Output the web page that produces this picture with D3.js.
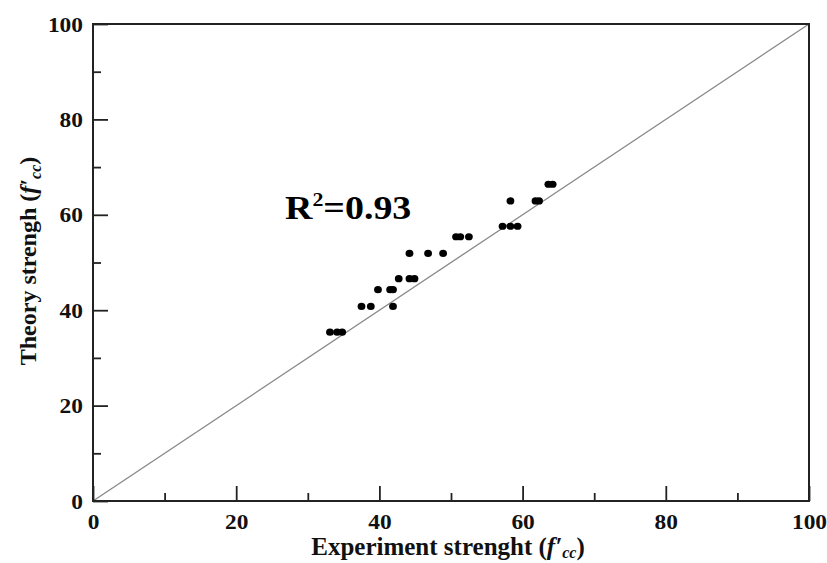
<!DOCTYPE html>
<html><head><meta charset="utf-8">
<script src="https://cdn.jsdelivr.net/npm/d3@7"></script>
<style>body{margin:0;background:#fff}svg{display:block}</style>
</head><body>
<script>
const experiment = [33.1,34.1,34.8, 37.5,38.8,41.9, 39.8,41.5,41.9, 42.7,44.2,44.9, 44.2,46.8,48.9, 50.7,51.3,52.5, 57.2,58.3,59.3, 58.3,61.8,62.3, 63.6,64.2];
const theory     = [35.4,35.4,35.4, 40.8,40.8,40.8, 44.3,44.3,44.3, 46.6,46.6,46.6, 51.9,51.9,51.9, 55.4,55.4,55.4, 57.6,57.6,57.6, 62.9,62.9,62.9, 66.4,66.4];
const majorTicks = [0,20,40,60,80,100];
const minorTicks = [10,30,50,70,90];
const r2Label = "0.93";

const W=827,H=563;
const svg=d3.select("body").append("svg").attr("width",W).attr("height",H);
const x=d3.scaleLinear().domain([0,100]).range([93,809]);
const y=d3.scaleLinear().domain([0,100]).range([501,24]);
const font="'Liberation Serif','Times New Roman',serif";
const axCol="#222";

// diagonal
svg.append("line").attr("x1",x(0)).attr("y1",y(0)).attr("x2",x(100)).attr("y2",y(100))
  .attr("stroke","#888").attr("stroke-width",1.3);

// frame
svg.append("rect").attr("x",x(0)).attr("y",y(100)).attr("width",x(100)-x(0)).attr("height",y(0)-y(100))
  .attr("fill","none").attr("stroke",axCol).attr("stroke-width",2);

// axes
const xAxis=d3.axisBottom(x).tickValues(majorTicks).tickSizeInner(-15).tickSizeOuter(0).tickPadding(0).tickFormat(d3.format("d"));
const gx=svg.append("g").attr("transform",`translate(0,${y(0)})`).call(xAxis);
const xMinor=d3.axisBottom(x).tickValues(minorTicks).tickSizeInner(-8).tickSizeOuter(0).tickFormat("");
const gxm=svg.append("g").attr("transform",`translate(0,${y(0)})`).call(xMinor);
const yAxis=d3.axisLeft(y).tickValues(majorTicks).tickSizeInner(-15).tickSizeOuter(0).tickPadding(0).tickFormat(d3.format("d"));
const gy=svg.append("g").attr("transform",`translate(${x(0)},0)`).call(yAxis);
const yMinor=d3.axisLeft(y).tickValues(minorTicks).tickSizeInner(-8).tickSizeOuter(0).tickFormat("");
const gym=svg.append("g").attr("transform",`translate(${x(0)},0)`).call(yMinor);
[gx,gxm,gy,gym].forEach(g=>{
  g.select(".domain").remove();
  g.selectAll(".tick line").attr("stroke",axCol).attr("stroke-width",1.8);
  g.selectAll(".tick text").attr("fill","#111").attr("font-family",font).attr("font-weight","bold").attr("font-size",20);
});
gx.selectAll(".tick text").attr("x",0).attr("y",0).attr("dy",0).attr("transform","translate(0,28) scale(1.17,1)");
gy.selectAll(".tick text").attr("x",0).attr("dy","0.35em").attr("transform","translate(-10,0) scale(1.17,1)");

// points
svg.append("g").selectAll("ellipse").data(experiment.map((e,i)=>[e,theory[i]])).join("ellipse")
  .attr("cx",d=>x(d[0])).attr("cy",d=>y(d[1])).attr("rx",3.9).attr("ry",3.6).attr("fill","#000");

// R2 text
const t=svg.append("text").attr("transform","translate(285,219) scale(1.15,1)").attr("font-family",font).attr("font-weight","bold").attr("font-size",33).attr("fill","#000");
t.append("tspan").text("R");
t.append("tspan").text("2").attr("font-size",19).attr("dy",-13);
t.append("tspan").text("="+r2Label).attr("dy",13);

// x label
const xl=svg.append("text").attr("x",448).attr("y",555).attr("text-anchor","middle").attr("font-family",font).attr("font-weight","bold").attr("font-size",25).attr("fill","#111");
xl.append("tspan").text("Experiment strenght (");
xl.append("tspan").text("f′").attr("font-style","italic");
xl.append("tspan").text("cc").attr("font-style","italic").attr("font-size",16).attr("dy",3);
xl.append("tspan").text(")").attr("dy",-3);

// y label
const yl=svg.append("text").attr("transform","translate(36,261) rotate(-90)").attr("text-anchor","middle").attr("font-family",font).attr("font-weight","bold").attr("font-size",24).attr("fill","#111");
yl.append("tspan").text("Theory strengh (");
yl.append("tspan").text("f′").attr("font-style","italic");
yl.append("tspan").text("cc").attr("font-style","italic").attr("font-size",16).attr("dy",5);
yl.append("tspan").text(")").attr("dy",-5);
</script>
</body></html>
